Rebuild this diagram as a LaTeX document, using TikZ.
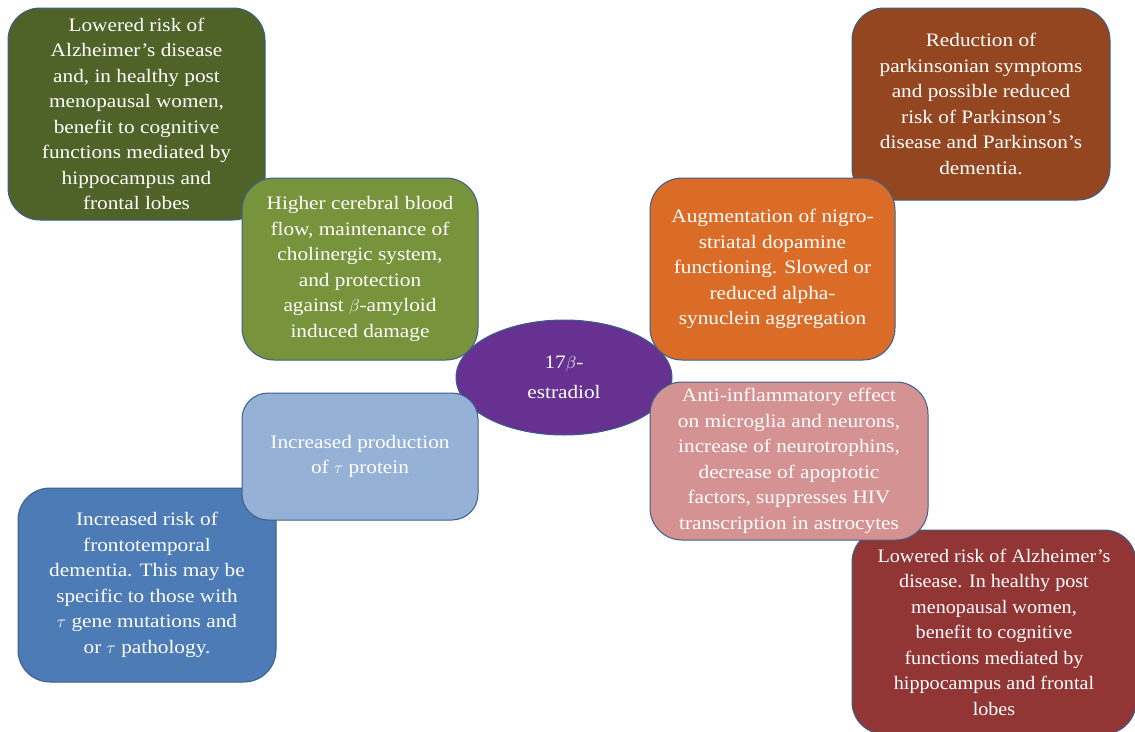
\documentclass[tikz,border=0pt]{standalone}
\usepackage{fontspec}
\setmainfont[FakeStretch=1.12]{Liberation Serif}
\newfontfamily\narrowserif[FakeStretch=1.06, Ligatures=TeX]{Liberation Serif}
\usetikzlibrary{shapes.geometric}
\definecolor{outline}{HTML}{3A5F8C}
\definecolor{olivedark}{HTML}{4F6228}
\definecolor{olive}{HTML}{77933C}
\definecolor{rust}{HTML}{93461F}
\definecolor{tangerine}{HTML}{DB6C27}
\definecolor{rose}{HTML}{D49292}
\definecolor{maroon}{HTML}{923535}
\definecolor{skyblue}{HTML}{95B1D5}
\definecolor{steel}{HTML}{4C7BB5}
\definecolor{violet}{HTML}{663190}
\tikzset{
	effect/.style = {draw=outline, line width=1pt, rounded corners=32pt, align=center, inner sep=0pt, text=white, font=\fontsize{19}{25.5}\selectfont},
	narrow/.style = {effect, font=\narrowserif\fontsize{19}{25.5}\selectfont},
	hub/.style = {ellipse, draw=outline, line width=1pt, fill=violet, inner sep=0pt, text=white, align=center, font=\fontsize{19}{30}\selectfont}
}

\begin{document}
\begin{tikzpicture}[x=1pt, y=-1pt]
\useasboundingbox (0,0) rectangle (1135,731);
\clip (0,0) rectangle (1135,731);
% outer boxes
\node [effect, fill=olivedark, minimum width=257pt, minimum height=212pt] (alzleft) at (136.5,114)
	{Lowered risk of\\Alzheimer's disease\\and, in healthy post\\menopausal women,\\benefit to cognitive\\functions mediated by\\hippocampus and\\frontal lobes};
\node [effect, fill=rust, minimum width=258pt, minimum height=192pt] (parkinson) at (981,104)
	{Reduction of\\parkinsonian symptoms\\and possible reduced\\risk of Parkinson's\\disease and Parkinson's\\dementia.};
\node [effect, fill=steel, minimum width=258pt, minimum height=194pt] (ftd) at (147,585)
	{Increased risk of\\frontotemporal\\dementia. This may be\\specific to those with\\$\tau$ gene mutations and\\or $\tau$ pathology.};
\node [narrow, fill=maroon, minimum width=284pt, minimum height=204pt] (alzright) at (994,632)
	{Lowered risk of Alzheimer's\\disease. In healthy post\\menopausal women,\\benefit to cognitive\\functions mediated by\\hippocampus and frontal\\lobes};
% centre
\node [hub, minimum width=216pt, minimum height=115pt] (estradiol) at (564,377.5) {17$\beta$-\\estradiol};
% inner boxes
\node [effect, fill=olive, minimum width=236pt, minimum height=182pt] (bloodflow) at (360,269)
	{Higher cerebral blood\\flow, maintenance of\\cholinergic system,\\and protection\\against $\beta$-amyloid\\induced damage};
\node [effect, fill=tangerine, minimum width=245pt, minimum height=182pt] (dopamine) at (772.5,269)
	{Augmentation of nigro-\\striatal dopamine\\functioning. Slowed or\\reduced alpha-\\synuclein aggregation};
\node [effect, fill=rose, minimum width=278pt, minimum height=158pt] (inflammation) at (789,461)
	{Anti-inflammatory effect\\on microglia and neurons,\\increase of neurotrophins,\\decrease of apoptotic\\factors, suppresses HIV\\transcription in astrocytes};
\node [effect, fill=skyblue, rounded corners=26pt, minimum width=236pt, minimum height=127pt] (tauprotein) at (360,456.5)
	{Increased production\\of $\tau$ protein};
\end{tikzpicture}
\end{document}
